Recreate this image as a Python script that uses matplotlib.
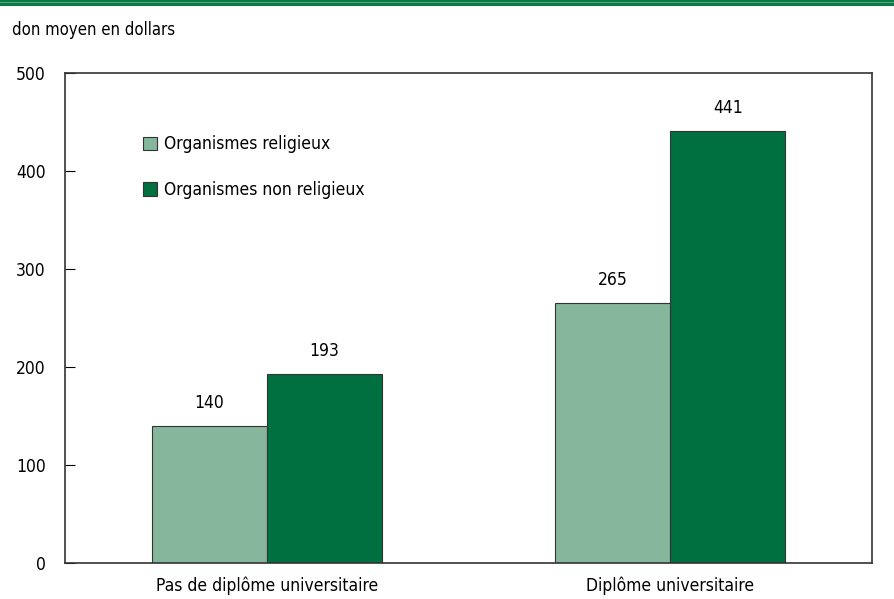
import matplotlib.pyplot as plt
import matplotlib.patches as mpatches
import numpy as np

# data
categories = ["Pas de diplôme universitaire", "Diplôme universitaire"]
religieux = [140, 265]
non_religieux = [193, 441]
series_names = ["Organismes religieux", "Organismes non religieux"]

plt.rcParams['font.family'] = ['DejaVu Sans']
plt.rcParams['font.stretch'] = 'condensed'
plt.rcParams['font.size'] = 12

light = "#86b79c"
dark = "#007040"

fig = plt.figure(figsize=(8.94, 5.99), dpi=100)
ax = fig.add_axes([65/894, 1 - 563/599, 807/894, 490/599])

x = np.arange(len(categories))
w = 0.285
b1 = ax.bar(x - w/2, religieux, w, color=light, edgecolor="#333333", linewidth=0.8, label=series_names[0])
b2 = ax.bar(x + w/2, non_religieux, w, color=dark, edgecolor="#333333", linewidth=0.8, label=series_names[1])

for bars in (b1, b2):
    for r in bars:
        ax.annotate(f"{int(r.get_height())}", (r.get_x() + r.get_width()/2, r.get_height()),
                    xytext=(0, 10), textcoords="offset points", ha="center", va="bottom", fontsize=12.5)

ax.set_xlim(-0.5, 1.5)
ax.set_ylim(0, 500)
ax.set_yticks([0, 100, 200, 300, 400, 500])
ax.set_xticks(x)
ax.set_xticklabels(categories, fontsize=12.5)
ax.tick_params(axis="y", direction="in", length=7, pad=14, labelsize=12.5)
ax.tick_params(axis="x", length=0, pad=10)
for s in ax.spines.values():
    s.set_linewidth(1.2)
    s.set_color("#333333")

ax.legend(loc="upper left", bbox_to_anchor=(0.077, 0.905), frameon=False, fontsize=12.5,
          handlelength=0.8, handleheight=0.8, handletextpad=0.4, labelspacing=1.6)

fig.text(12/894, 1 - 30/599, "don moyen en dollars", fontsize=12, va="center", ha="left")

# green band at top
fig.add_artist(mpatches.Rectangle((0, 1 - 6/599), 1, 6/599, transform=fig.transFigure, color="#0b7a45", lw=0))
fig.add_artist(mpatches.Rectangle((0, 1 - 3/599), 1, 1/599, transform=fig.transFigure, color="#5aa77e", lw=0))

fig.savefig("out.png", dpi=100)
